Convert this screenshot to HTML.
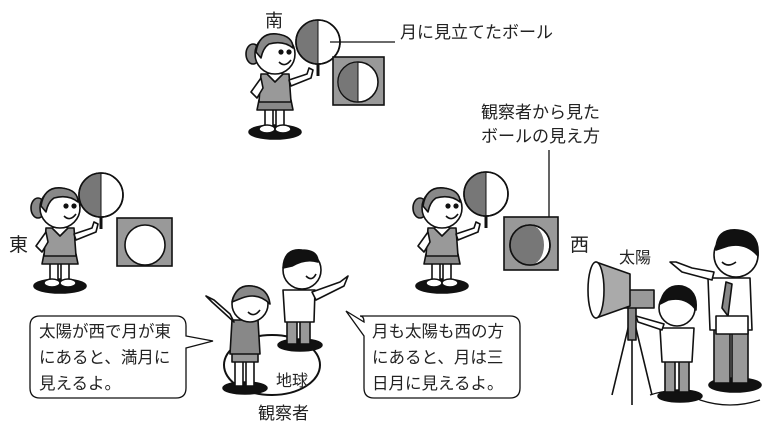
<!DOCTYPE html>
<html><head><meta charset="utf-8"><style>
html,body{margin:0;padding:0;background:#fff;}
svg{display:block;}
text{font-family:"Liberation Sans","Noto Sans CJK JP",sans-serif;fill:#222;}
</style></head><body>
<svg width="768" height="435" viewBox="0 0 768 435" xmlns="http://www.w3.org/2000/svg">
<defs>
<g id="girl" stroke="#111" stroke-width="1.6" stroke-linejoin="round">
  <ellipse cx="30" cy="104" rx="26" ry="7" fill="#111"/>
  <rect x="20" y="78" width="8" height="22" fill="#fff"/>
  <rect x="31" y="78" width="8" height="22" fill="#fff"/>
  <ellipse cx="22" cy="101" rx="8" ry="4" fill="#fff"/>
  <ellipse cx="38" cy="101" rx="8" ry="4" fill="#fff"/>
  <path d="M14 72 L46 72 L48 82 L12 82 Z" fill="#888"/>
  <path d="M16 46 L44 46 L46 74 L14 74 Z" fill="#999"/>
  <path d="M22 46 L30 54 L38 46" fill="#fff"/>
  <path d="M44 52 L62 46 L64 40 L68 42 L66 50 L46 58 Z" fill="#fff"/>
  <path d="M16 50 L6 64 L12 70 L18 60 Z" fill="#fff"/>
  <ellipse cx="8" cy="26" rx="7" ry="10" fill="#888"/>
  <circle cx="30" cy="26" r="20" fill="#fff"/>
  <path d="M11 24 Q14 4 32 6 Q48 8 48 20 Q38 12 24 16 Q18 20 16 30 Z" fill="#888"/>
  <circle cx="36" cy="24" r="1.8" fill="#111"/>
  <circle cx="44" cy="24" r="1.8" fill="#111"/>
  <path d="M34 34 Q40 40 46 32" fill="#fff"/>
</g>
<g id="ball">
  <circle r="22" fill="#fff" stroke="#111" stroke-width="1.6"/>
  <path d="M0 -22 A22 22 0 0 0 0 22 Z" fill="#777"/>
  <line x1="0" y1="-22" x2="0" y2="22" stroke="#111" stroke-width="1"/>
  <circle r="22" fill="none" stroke="#111" stroke-width="1.6"/>
  <line x1="0" y1="22" x2="0" y2="34" stroke="#111" stroke-width="3"/>
</g>
</defs>

<!-- South -->
<text x="265" y="27" font-size="18">南</text>
<use href="#girl" x="245" y="28"/>
<use href="#ball" x="318" y="42"/>
<line x1="330" y1="42" x2="395" y2="42" stroke="#111" stroke-width="1.3"/>
<text x="400" y="38" font-size="17">月に見立てたボール</text>
<rect x="333" y="57" width="51" height="48" fill="#999" stroke="#111" stroke-width="1.6"/>
<circle cx="358" cy="82" r="20" fill="#fff" stroke="#111" stroke-width="1.6"/>
<path d="M358 62 A20 20 0 0 0 358 102 Z" fill="#777" stroke="#111" stroke-width="1"/>
<text x="481" y="118" font-size="17">観察者から見た</text>
<text x="481" y="142" font-size="17">ボールの見え方</text>
<line x1="549" y1="150" x2="549" y2="225" stroke="#111" stroke-width="1.3"/>

<!-- East -->
<text x="9" y="251" font-size="19">東</text>
<use href="#girl" x="30" y="182"/>
<use href="#ball" x="101" y="195"/>
<rect x="117" y="218" width="55" height="48" fill="#999" stroke="#111" stroke-width="1.6"/>
<circle cx="145" cy="245" r="20" fill="#fff" stroke="#111" stroke-width="1.6"/>

<!-- West -->
<use href="#girl" x="412" y="182"/>
<use href="#ball" x="486" y="194"/>
<rect x="504" y="217" width="54" height="53" fill="#999" stroke="#111" stroke-width="1.6"/>
<circle cx="530" cy="245" r="20" fill="#fff" stroke="#111" stroke-width="1.6"/>
<path d="M530 225 A20 20 0 0 0 530 265 A14 20 0 0 0 530 225 Z" fill="#777"/>
<circle cx="530" cy="245" r="20" fill="none" stroke="#111" stroke-width="1.6"/>
<text x="570" y="251" font-size="19">西</text>
<text x="619" y="263" font-size="16">太陽</text>

<!-- Earth & observers -->
<ellipse cx="272" cy="365" rx="48" ry="30" fill="#fff" stroke="#111" stroke-width="2"/>
<text x="276" y="386" font-size="16">地球</text>
<text x="258" y="419" font-size="17">観察者</text>
<g stroke="#111" stroke-width="1.6" stroke-linejoin="round">
  <ellipse cx="300" cy="345" rx="22" ry="6" fill="#111"/>
  <rect x="287" y="320" width="10" height="24" fill="#999"/>
  <rect x="300" y="320" width="10" height="24" fill="#999"/>
  <path d="M283 290 L315 290 L314 322 L285 322 Z" fill="#fff"/>
  <path d="M312 292 L340 282 L348 276 L344 286 L316 300 Z" fill="#fff"/>
  <circle cx="302" cy="270" r="19" fill="#fff"/>
  <path d="M283 268 Q284 248 302 250 Q318 250 318 262 Q306 258 292 266 Z" fill="#111"/>
  <path d="M306 276 Q312 282 316 274" fill="#fff"/>
  <ellipse cx="245" cy="388" rx="22" ry="6" fill="#111"/>
  <rect x="235" y="360" width="8" height="26" fill="#fff"/>
  <rect x="246" y="360" width="8" height="26" fill="#fff"/>
  <rect x="232" y="352" width="26" height="10" fill="#999"/>
  <path d="M232 320 L258 320 L260 354 L230 354 Z" fill="#888"/>
  <path d="M234 322 L212 302 L206 296 L214 300 L230 314 Z" fill="#fff"/>
  <circle cx="250" cy="304" r="18" fill="#fff"/>
  <path d="M232 302 Q236 284 252 286 Q268 288 270 304 Q258 292 242 298 Z" fill="#888"/>
  <path d="M248 312 Q254 318 260 310" fill="#fff"/>
</g>

<!-- Bubbles -->
<path d="M40 316 H176 Q186 316 186 326 V336 L213 341 L186 348 V388 Q186 398 176 398 H40 Q30 398 30 388 V326 Q30 316 40 316 Z" fill="#fff" stroke="#111" stroke-width="1.3"/>
<text font-size="16.5"><tspan x="39" y="337">太陽が西で月が東</tspan><tspan x="39" y="363">にあると、満月に</tspan><tspan x="39" y="389">見えるよ。</tspan></text>
<path d="M360 316 H510 Q520 316 520 326 V388 Q520 398 510 398 H374 Q364 398 364 388 V336 L346 311 L364 322 Q364 316 360 316 Z" fill="#fff" stroke="#111" stroke-width="1.3"/>
<text font-size="16.5"><tspan x="372" y="337">月も太陽も西の方</tspan><tspan x="372" y="363">にあると、月は三</tspan><tspan x="372" y="389">日月に見えるよ。</tspan></text>

<!-- Lamp + tripod -->
<g stroke="#111" stroke-width="1.6" stroke-linejoin="round">
  <line x1="630" y1="320" x2="612" y2="395" />
  <line x1="632" y1="320" x2="632" y2="405" />
  <line x1="634" y1="320" x2="652" y2="395" />
  <rect x="628" y="300" width="8" height="40" fill="#888"/>
  <rect x="620" y="290" width="34" height="18" fill="#999"/>
  <path d="M596 262 Q588 290 596 318 L630 306 L630 274 Z" fill="#aaa"/>
  <ellipse cx="596" cy="290" rx="8" ry="28" fill="#fff"/>
  <path d="M650 395 Q680 385 700 400 Q730 410 760 400" fill="none" stroke-width="1.2"/>
  <!-- boy -->
  <ellipse cx="680" cy="396" rx="22" ry="6" fill="#111"/>
  <rect x="665" y="360" width="10" height="32" fill="#999"/>
  <rect x="679" y="360" width="10" height="32" fill="#999"/>
  <path d="M660 328 L694 328 L692 362 L662 362 Z" fill="#fff"/>
  <path d="M662 330 L638 322 L636 316 L664 324 Z" fill="#fff"/>
  <circle cx="677" cy="308" r="18" fill="#fff"/>
  <path d="M660 304 Q664 284 682 286 Q698 290 696 310 Q686 296 668 300 Z" fill="#111"/>
  <!-- man -->
  <ellipse cx="735" cy="385" rx="26" ry="7" fill="#111"/>
  <rect x="714" y="325" width="16" height="58" fill="#999"/>
  <rect x="732" y="325" width="16" height="58" fill="#999"/>
  <path d="M708 278 L750 278 L752 330 L710 330 Z" fill="#fff"/>
  <path d="M726 282 L722 308 L728 316 L732 284 Z" fill="#888"/>
  <path d="M712 280 L682 272 L670 262 L676 262 L692 268 L714 272 Z" fill="#fff"/>
  <rect x="716" y="316" width="32" height="18" fill="#fff"/>
  <circle cx="736" cy="255" r="22" fill="#fff"/>
  <path d="M716 250 Q716 228 738 230 Q760 232 758 256 Q746 242 728 246 Z" fill="#111"/>
  <path d="M722 262 Q728 268 736 262" fill="#fff"/>
</g>
</svg>
</body></html>
